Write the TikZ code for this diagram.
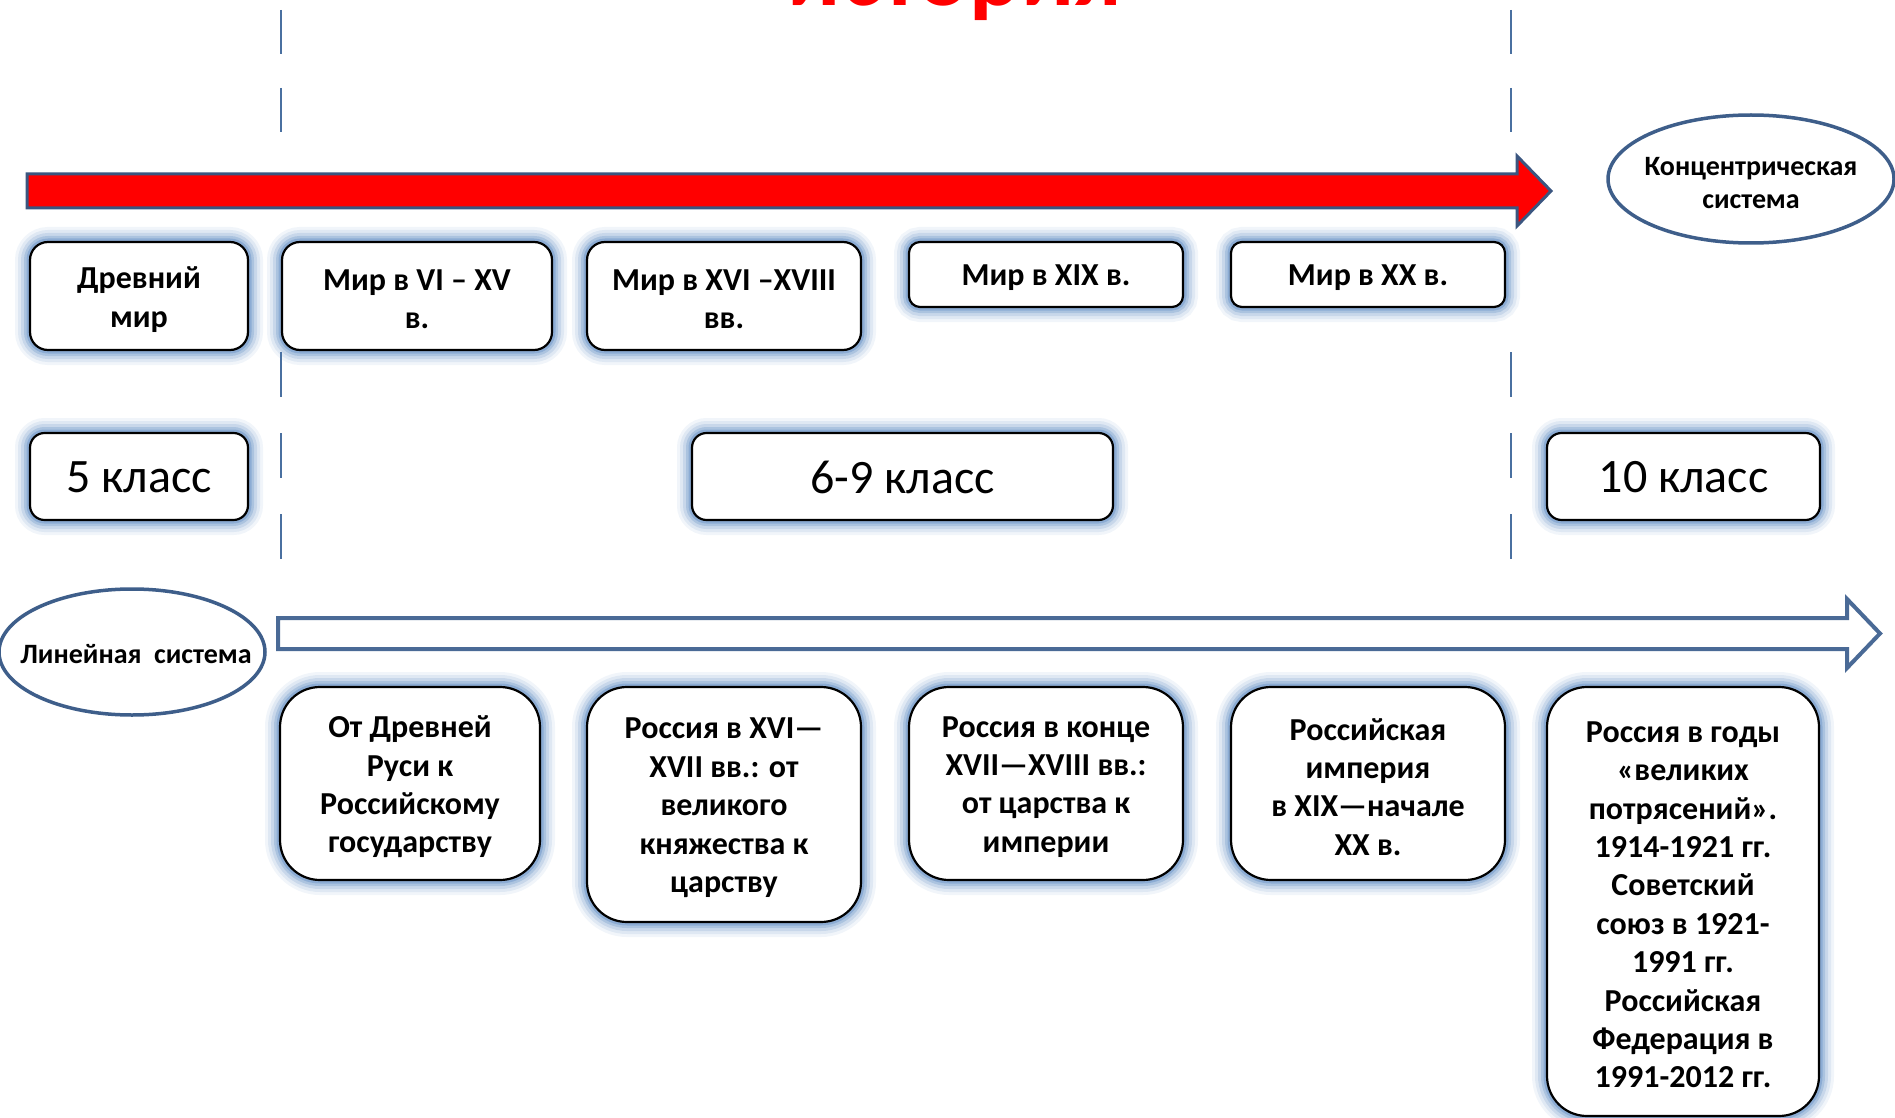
\documentclass[tikz,border=0pt]{standalone}
\usepackage{fontspec}
\setmainfont{Carlito}
\usetikzlibrary{shapes.geometric}
\definecolor{glowc}{RGB}{79,129,189}
\definecolor{linec}{RGB}{74,106,150}
\definecolor{ellc}{RGB}{62,94,138}
\definecolor{arrc}{RGB}{59,86,128}
\definecolor{dashc}{RGB}{74,112,160}
\begin{document}
\begin{tikzpicture}[x=0.5pt,y=-0.5pt,
  glowbox/.style={draw=black, line width=1.1pt, fill=white, inner sep=0pt,
    preaction={draw=glowc, line width=15pt, draw opacity=0.08},
    preaction={draw=glowc, line width=12pt, draw opacity=0.11},
    preaction={draw=glowc, line width=9pt, draw opacity=0.16},
    preaction={draw=glowc, line width=6pt, draw opacity=0.24},
    preaction={draw=glowc, line width=3.5pt, draw opacity=0.34}},
  boldtxt/.style={font=\fontsize{16}{19.2}\selectfont\bfseries},
  classtxt/.style={font=\fontsize{24}{28}\selectfont},
  tx/.style={label={[boldtxt, align=center, inner sep=0pt, yshift=-1.7pt]center:#1}},
  cx/.style={label={[classtxt, align=center, inner sep=0pt, yshift=-0.4pt]center:#1}},
  topbox/.style={glowbox, rounded corners=9pt},
  flatbox/.style={glowbox, rounded corners=5.5pt},
  classbox/.style={glowbox, rounded corners=7.3pt},
  lowbox/.style={glowbox, rounded corners=20pt},
  sysell/.style={ellipse, draw=ellc, line width=1.75pt, fill=white, inner sep=0pt},
  systxt/.style={align=center, inner sep=0pt, font=\fontsize{14}{16.5}\selectfont\bfseries},
  dline/.style={draw=dashc, line width=1pt}]
\useasboundingbox (0,0) rectangle (1895,1118);
\clip (0,0) rectangle (1895,1118);

% title (cut off at the top)
\node[anchor=base, text=red, inner sep=0pt, font=\fontsize{48}{57}\selectfont\bfseries] (title) at (955,6) {история};

% dashed dividers
\coordinate (la1) at (281,10);  \coordinate (la2) at (281,133);
\coordinate (lb1) at (281,352); \coordinate (lb2) at (281,560);
\coordinate (ra1) at (1511,10);  \coordinate (ra2) at (1511,133);
\coordinate (rb1) at (1511,352); \coordinate (rb2) at (1511,560);
\draw[dline, dash pattern=on 22pt off 17pt] (la1) -- (la2);
\draw[dline, dash pattern=on 22pt off 17pt] (ra1) -- (ra2);
\draw[dline, dash pattern=on 22.5pt off 18pt] (lb1) -- (lb2);
\draw[dline, dash pattern=on 22.5pt off 18pt] (rb1) -- (rb2);

% red arrow
\draw[draw=arrc, line width=1.5pt, fill=red, line join=miter]
  (27,174) -- (1517,174) -- (1517,156) -- (1551,191) -- (1517,226) -- (1517,208) -- (27,208) -- cycle;

% hollow arrow
\draw[draw=linec, line width=2pt, fill=white, line join=miter]
  (278,618) -- (1847,618) -- (1847,599) -- (1880,633.5) -- (1847,668) -- (1847,649) -- (278,649) -- cycle;

% ellipses
\node[sysell, minimum width=143pt, minimum height=64pt] (conc) at (1751,179) {};
\node[systxt] (conctxt) at (1751,183) {Концентрическая\\система};
\node[sysell, minimum width=133pt, minimum height=63pt] (lin) at (132,652) {};
\node[systxt] (lintxt) at (136,654) {Линейная\ \ система};

% top row
\node[topbox, minimum width=109pt, minimum height=54pt, tx={Древний\\мир}] (t1) at (139,296) {};
\node[topbox, minimum width=135pt, minimum height=54pt, tx={Мир в VI – XV\\в.}] (t2) at (417,296) {};
\node[topbox, minimum width=137pt, minimum height=54pt, tx={Мир в XVI –XVIII\\вв.}] (t3) at (724,296) {};
\node[flatbox, minimum width=137pt, minimum height=32.5pt, tx={Мир в XIX в.}] (t4) at (1046,274.5) {};
\node[flatbox, minimum width=137pt, minimum height=32.5pt, tx={Мир в XX в.}] (t5) at (1368,274.5) {};

% class row
\node[classbox, minimum width=109pt, minimum height=43.5pt, cx={5 класс}] (c1) at (139,476.5) {};
\node[classbox, minimum width=210.5pt, minimum height=43.5pt, cx={6-9 класс}] (c2) at (902.5,476.5) {};
\node[classbox, minimum width=136.5pt, minimum height=43.5pt, cx={10 класс}] (c3) at (1683.5,476.5) {};

% bottom row
\node[lowbox, minimum width=130pt, minimum height=96.5pt,
  tx={От Древней\\Руси к\\Российскому\\государству}] (r1) at (410,783.5) {};
\node[lowbox, minimum width=137pt, minimum height=117.5pt,
  tx={Россия в XVI—\\XVII вв.: от\\великого\\княжества к\\царству}] (r2) at (724,804.5) {};
\node[lowbox, minimum width=137pt, minimum height=96.5pt,
  tx={Россия в конце\\XVII—XVIII вв.:\\от царства к\\империи}] (r3) at (1046,783.5) {};
\node[lowbox, minimum width=137pt, minimum height=96.5pt,
  tx={Российская\\империя\\в XIX—начале\\XX в.}] (r4) at (1368,783.5) {};
\node[lowbox, minimum width=136pt, minimum height=214.5pt,
  tx={Россия в годы\\«великих\\потрясений».\\1914-1921 гг.\\Советский\\союз в 1921-\\1991 гг.\\Российская\\Федерация в\\1991-2012 гг.}] (r5) at (1683,901.5) {};
\end{tikzpicture}
\end{document}
